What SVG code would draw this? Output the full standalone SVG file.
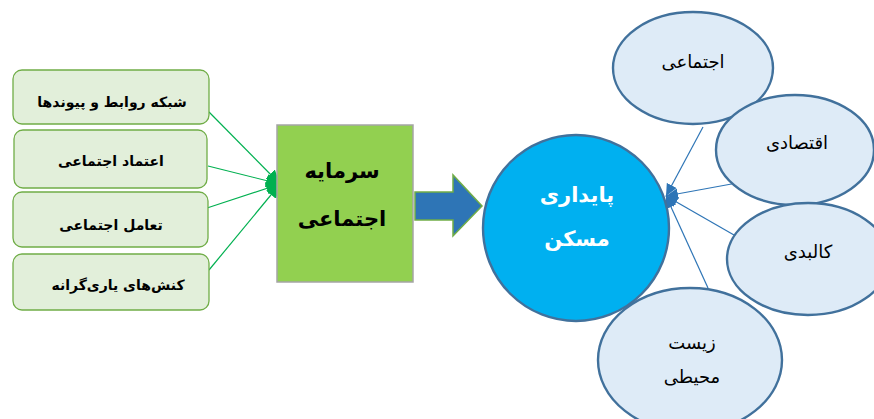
<svg xmlns="http://www.w3.org/2000/svg" width="874" height="419" viewBox="0 0 874 419">
<style>
.box{fill:#E2EFDA;stroke:#70AD47;stroke-width:1.3}
.btxt{font-family:"DejaVu Sans",sans-serif;font-weight:bold;font-size:14px;fill:#000;text-anchor:middle}
.ell{fill:#DEEBF7;stroke:#41719C;stroke-width:2.4}
.etxt{font-family:"DejaVu Sans",sans-serif;font-size:18px;fill:#000;text-anchor:middle}
.gl{stroke:#00B050;stroke-width:1.2;fill:none}
.bl{stroke:#2E75B6;stroke-width:1.2;fill:none}
.ctxt{font-family:"DejaVu Sans",sans-serif;font-weight:bold;text-anchor:middle}
</style>
<defs>
<marker id="ga" markerUnits="userSpaceOnUse" markerWidth="15" markerHeight="13" refX="14" refY="6.5" orient="auto">
<path d="M0,0 L14,6.5 L0,13 Z" fill="#00B050"/>
</marker>
<marker id="ba" markerUnits="userSpaceOnUse" markerWidth="13" markerHeight="11" refX="12" refY="5.5" orient="auto">
<path d="M0,0 L12,5.5 L0,11 Z" fill="#2E75B6"/>
</marker>
</defs>
<rect width="874" height="419" fill="#fff"/>
<g id="connectors">
<line class="gl" x1="209" y1="112" x2="280" y2="184" marker-end="url(#ga)"/>
<line class="gl" x1="208" y1="166" x2="280" y2="184" marker-end="url(#ga)"/>
<line class="gl" x1="207" y1="208" x2="280" y2="184" marker-end="url(#ga)"/>
<line class="gl" x1="209" y1="270" x2="280" y2="184" marker-end="url(#ga)"/>
<line class="bl" x1="703" y1="127" x2="666" y2="196" marker-end="url(#ba)"/>
<line class="bl" x1="737" y1="183" x2="666" y2="196" marker-end="url(#ba)"/>
<line class="bl" x1="734" y1="235" x2="666" y2="196" marker-end="url(#ba)"/>
<line class="bl" x1="708" y1="288" x2="666" y2="196" marker-end="url(#ba)"/>
</g>
<g id="n1"><rect class="box" x="13" y="70" width="196" height="54" rx="9"/><text class="btxt" x="112" y="107">شبکه روابط و پیوندها</text></g>
<g id="n2"><rect class="box" x="14" y="130" width="193" height="58" rx="9"/><text class="btxt" x="111" y="166">اعتماد اجتماعی</text></g>
<g id="n3"><rect class="box" x="13" y="192" width="195" height="55" rx="9"/><text class="btxt" x="111" y="230">تعامل اجتماعی</text></g>
<g id="n4"><rect class="box" x="13" y="254" width="196" height="56" rx="9"/><text class="btxt" x="118" y="290">کنش‌های یاری‌گرانه</text></g>
<g id="social-capital"><rect x="277" y="125" width="136" height="157" fill="#92D050" stroke="#A5A5A5" stroke-width="1.5"/>
<text class="ctxt" x="342" y="178" font-size="21" fill="#000">سرمایه</text>
<text class="ctxt" x="342" y="226" font-size="21" fill="#000">اجتماعی</text></g>
<g id="block-arrow"><path d="M415,192 L453,192 L453,175 L482,206 L453,236 L453,220 L415,220 Z" fill="#2E75B6" stroke="#70AD47" stroke-width="1.5"/></g>
<g id="housing"><circle cx="576" cy="228" r="93" fill="#00B0F0" stroke="#41719C" stroke-width="2.4"/>
<text class="ctxt" x="577" y="202" font-size="21" fill="#fff">پایداری</text>
<text class="ctxt" x="577" y="246" font-size="21" fill="#fff">مسکن</text></g>
<g id="e1"><ellipse class="ell" cx="693" cy="68" rx="80" ry="56"/><text class="etxt" x="693" y="68">اجتماعی</text></g>
<g id="e2"><ellipse class="ell" cx="795" cy="150" rx="79" ry="55"/><text class="etxt" x="797" y="149">اقتصادی</text></g>
<g id="e3"><ellipse class="ell" cx="808" cy="259" rx="81" ry="56"/><text class="etxt" x="808" y="258">کالبدی</text></g>
<g id="e4"><ellipse class="ell" cx="690" cy="360" rx="92" ry="72"/><text class="etxt" x="692" y="349">زیست</text><text class="etxt" x="692" y="383">محیطی</text></g>
</svg>
